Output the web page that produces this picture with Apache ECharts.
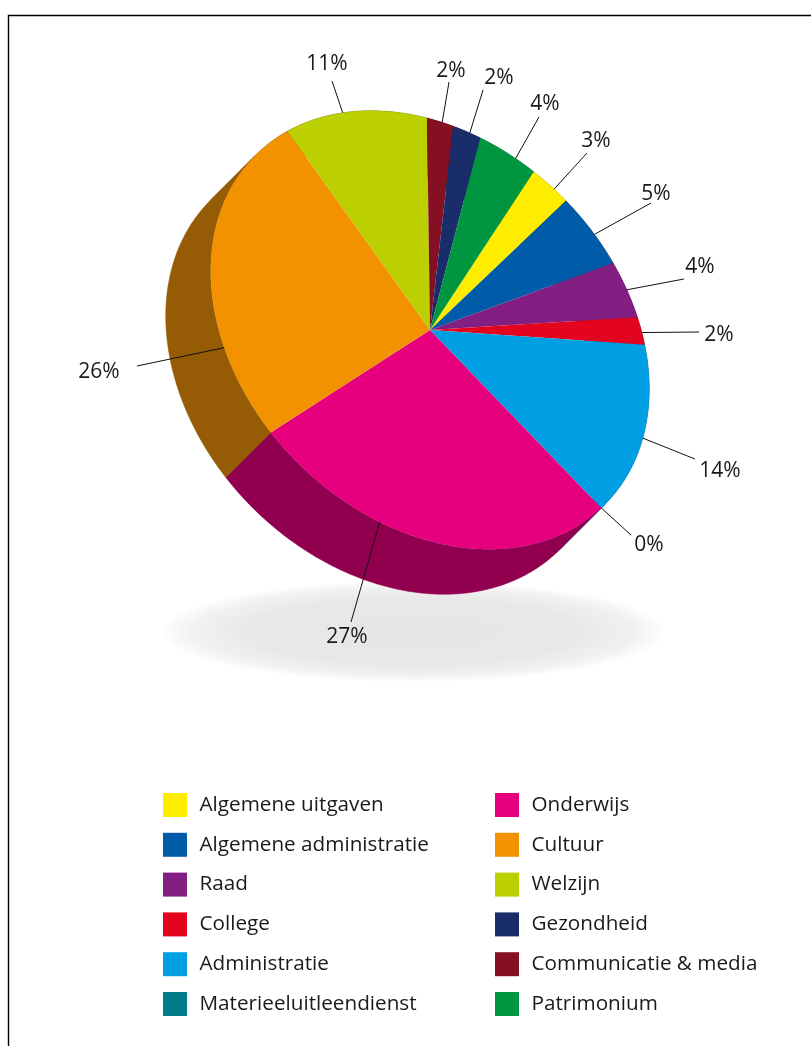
<!DOCTYPE html>
<html>
<head>
<meta charset="utf-8">
<style>html,body{margin:0;padding:0;background:#fff}#c{width:811px;height:1046px}</style>
<script src="https://cdn.jsdelivr.net/npm/echarts@6/dist/echarts.min.js"></script>
</head>
<body>
<div id="c"></div>
<script>
// Data: clockwise slice order. Shares are read from the drawn wedges; labels show them rounded.
const categories = ['Algemene uitgaven','Algemene administratie','Raad','College','Administratie','Materieeluitleendienst','Onderwijs','Cultuur','Welzijn','Communicatie & media','Gezondheid','Patrimonium'];
const percentages = [2.8,5.1,4.0,2.0,14.0,0,27.2,25.8,11.05,1.9,2.0,4.15];
const sliceColors = ['#ffed00','#005ca9','#831f82','#e30520','#009fe3','#007b87','#e6007e','#f39200','#bccf00','#851023','#1a2d6b','#009640'];
const sideColors  = ['#9e9300','#003a6b','#521352','#8e0314','#00648e','#004d55','#90004e','#955c05','#767f00','#530a16','#101c43','#005e28'];
const legendLeft  = ['Algemene uitgaven','Algemene administratie','Raad','College','Administratie','Materieeluitleendienst'];
const legendRight = ['Onderwijs','Cultuur','Welzijn','Gezondheid','Communicatie & media','Patrimonium'];

// Annotation layout (per slice): where along its arc the leader leaves, where it ends, where its label sits
const leaderFractions = [.62,.56,.5,.56,.51,.5,.66,.25,.43,.58,.61,.65];
const leaderEnds = [[587,153],[651,203],[684,279],[699,332],[695,459],[631,535],[351,622],[137,366],[332,81],[449,82],[483,90],[539,117]];
const labelCenters = [[596,141],[656,194],[700,267],[719,335],[720,471],[649,545],[347,637],[99,372],[327,64],[451,71],[499,78],[545,104]];

// Projection of the tilted disc
const CX = 430, CY = 330, A = 247, B = 187.5, DEPTH = 45, START = 81;
const S = Math.SQRT1_2;
function project(deg) {
  const t = deg * Math.PI / 180, u = A * Math.cos(t), v = B * Math.sin(t);
  return [CX - u * S + v * S, CY - u * S - v * S];
}
function arc(from, to) {
  const n = Math.max(2, Math.ceil(Math.abs(to - from) * 2)), pts = [];
  for (let i = 0; i <= n; i++) pts.push(project(from + (to - from) * i / n));
  return pts;
}
// The wall is split at the disc's tips so each part is a simple swept outline.
function wallParts(from, to) {
  const parts = [];
  let a = from;
  for (let k = Math.floor(from / 180) + 1; k * 180 < to; k++) { parts.push([a, k * 180]); a = k * 180; }
  if (to > a) parts.push([a, to]);
  return parts;
}
const total = percentages.reduce((a, b) => a + b, 0);
const FONT = '"Open Sans", "Noto Sans", sans-serif';
const INK = '#1a1a1a';

const series = categories.map((name, idx) => ({
  type: 'custom',
  name,
  coordinateSystem: 'none',
  silent: true,
  animation: false,
  itemStyle: { color: sliceColors[idx] },
  data: [[percentages[idx]]],
  renderItem(params, api) {
    const before = percentages.slice(0, idx).reduce((a, b) => a + b, 0);
    const from = START + before / total * 360;
    const to = from + api.value(0) / total * 360;
    const anchor = project(from + (to - from) * leaderFractions[idx]);
    const walls = wallParts(from, to).map(([a, b]) => {
      const outer = arc(a, b);
      const shifted = outer.map(p => [p[0] - DEPTH, p[1] + DEPTH]).reverse();
      return { type: 'polygon', z2: 1, shape: { points: outer.concat(shifted) },
        style: { fill: sideColors[idx], stroke: sideColors[idx], lineWidth: 0.5 } };
    });
    const children = walls.concat([
      { type: 'polygon', z2: 2, shape: { points: [[CX, CY]].concat(arc(from, to)) },
        style: { fill: sliceColors[idx] } },
      { type: 'polyline', z2: 3, shape: { points: [anchor, leaderEnds[idx]] },
        style: { fill: null, stroke: '#111', lineWidth: 1 } },
      { type: 'text', z2: 4, x: labelCenters[idx][0], y: labelCenters[idx][1],
        style: { text: Math.round(api.value(0)) + '%', fill: INK, font: '21px ' + FONT, align: 'center', verticalAlign: 'middle' } }
    ]);
    return { type: 'group', children };
  }
}));

function legend(data, left) {
  return {
    data, left, top: 793, orient: 'vertical', icon: 'rect', selectedMode: false,
    itemWidth: 24, itemHeight: 24, itemGap: 15.8, padding: 0,
    textStyle: { fontFamily: FONT, fontSize: 20.7, color: INK, padding: [0, 0, 0, 7.5] }
  };
}

const chart = echarts.init(document.getElementById('c'), null, { renderer: 'canvas' });
chart.setOption({
  backgroundColor: '#fff',
  animation: false,
  legend: [legend(legendLeft, 163), legend(legendRight, 495)],
  graphic: [
    { type: 'polyline', z: -2, silent: true, shape: { points: [[8.5, 1046], [8.5, 15.5], [811, 15.5]] },
      style: { fill: null, stroke: '#000', lineWidth: 1.4 } },
    { type: 'circle', z: -1, silent: true, x: 413.5, y: 631.5, scaleY: 0.2, shape: { cx: 0, cy: 0, r: 250 },
      style: { fill: new echarts.graphic.RadialGradient(0.5, 0.5, 0.5, [
        { offset: 0, color: '#e6e6e6' }, { offset: 0.65, color: '#e8e8e8' },
        { offset: 0.88, color: '#f1f1f1' }, { offset: 1, color: '#fdfdfd' }]) } }
  ],
  series
});
</script>
</body>
</html>
